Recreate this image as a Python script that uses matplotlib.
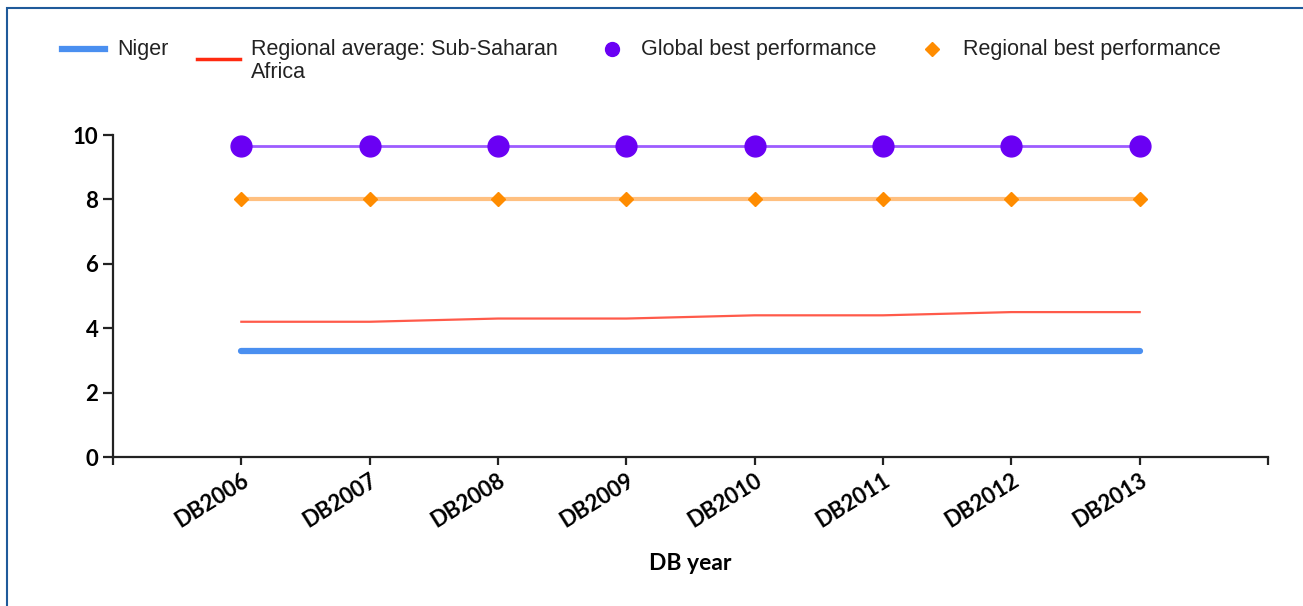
import matplotlib
matplotlib.use("Agg")
import matplotlib.pyplot as plt
from matplotlib.lines import Line2D
from matplotlib.patches import Rectangle

years = ["DB2006", "DB2007", "DB2008", "DB2009", "DB2010", "DB2011", "DB2012", "DB2013"]
niger = [3.3, 3.3, 3.3, 3.3, 3.3, 3.3, 3.3, 3.3]
regional_avg = [4.2, 4.2, 4.3, 4.3, 4.4, 4.4, 4.5, 4.5]
global_best = [9.67, 9.67, 9.67, 9.67, 9.67, 9.67, 9.67, 9.67]
regional_best = [8.0, 8.0, 8.0, 8.0, 8.0, 8.0, 8.0, 8.0]

W, H = 1303, 606
fig = plt.figure(figsize=(W / 100, H / 100), dpi=100)
ax = fig.add_axes([113 / W, 1 - 457 / H, (1268 - 113) / W, (457 - 135) / H])

x = list(range(1, len(years) + 1))
ax.plot(x, global_best, color="#9d5cff", lw=2, marker="o", ms=15,
        mfc="#6a00f4", mec="#6a00f4", zorder=3)
ax.plot(x, regional_best, color="#ffc080", lw=3, marker="D", ms=7,
        mfc="#ff8c00", mec="#ff8c00", zorder=3)
ax.plot(x, regional_avg, color="#ff5a4a", lw=1.6, zorder=2)
ax.plot(x, niger, color="#4a8ff0", lw=4.5, solid_capstyle="round", zorder=2)

ax.set_xlim(0, 9)
ax.set_ylim(0, 10)
ax.set_xticks(range(0, 10))
ax.set_xticklabels([""] + years + [""])
ax.set_yticks([0, 2, 4, 6, 8, 10])
for s in ["top", "right"]:
    ax.spines[s].set_visible(False)
for s in ["left", "bottom"]:
    ax.spines[s].set_linewidth(1.6)
    ax.spines[s].set_color("#222222")
ax.tick_params(axis="y", length=7, width=1.6, color="#222222")
ax.tick_params(axis="x", length=6, width=1.6, color="#222222", pad=3)
for lab in ax.get_yticklabels():
    lab.set_fontfamily("Lato")
    lab.set_fontweight("bold")
    lab.set_fontsize(16)
for lab in ax.get_xticklabels():
    lab.set_fontfamily("Lato")
    lab.set_fontweight("bold")
    lab.set_fontsize(16)
    lab.set_rotation(32)
    lab.set_ha("right")
    lab.set_rotation_mode("anchor")
ax.set_xlabel("DB year", fontfamily="Lato", fontweight="bold", fontsize=16.5, labelpad=16)

# legend drawn across the top
leg_y = 1 - 49 / H
font = dict(family="Liberation Sans", size=15.5, color="#222222", va="center")
fig.add_artist(Line2D([62 / W, 105 / W], [leg_y, leg_y], color="#4a8ff0", lw=4.5))
fig.text(117 / W, leg_y, "Niger", **font)
fig.add_artist(Line2D([197 / W, 240 / W], [1 - 59 / H, 1 - 59 / H], color="#ff2a10", lw=2.5))
fig.text(251 / W, 1 - 49 / H, "Regional average: Sub-Saharan", **font)
fig.text(251 / W, 1 - 73 / H, "Africa", **font)
fig.add_artist(Line2D([612 / W], [leg_y], marker="o", ms=10, color="#6a00f4", lw=0))
fig.text(641 / W, leg_y, "Global best performance", **font)
fig.add_artist(Line2D([932 / W], [leg_y], marker="D", ms=7, color="#ff8c00", lw=0))
fig.text(963 / W, leg_y, "Regional best performance", **font)

# frame border
fig.add_artist(Rectangle((7 / W, -0.1), 1.2, 1 - 8 / H + 0.1, transform=fig.transFigure,
                         fill=False, ec="#1f5a9a", lw=1.5))

fig.savefig("out.png", dpi=100)
